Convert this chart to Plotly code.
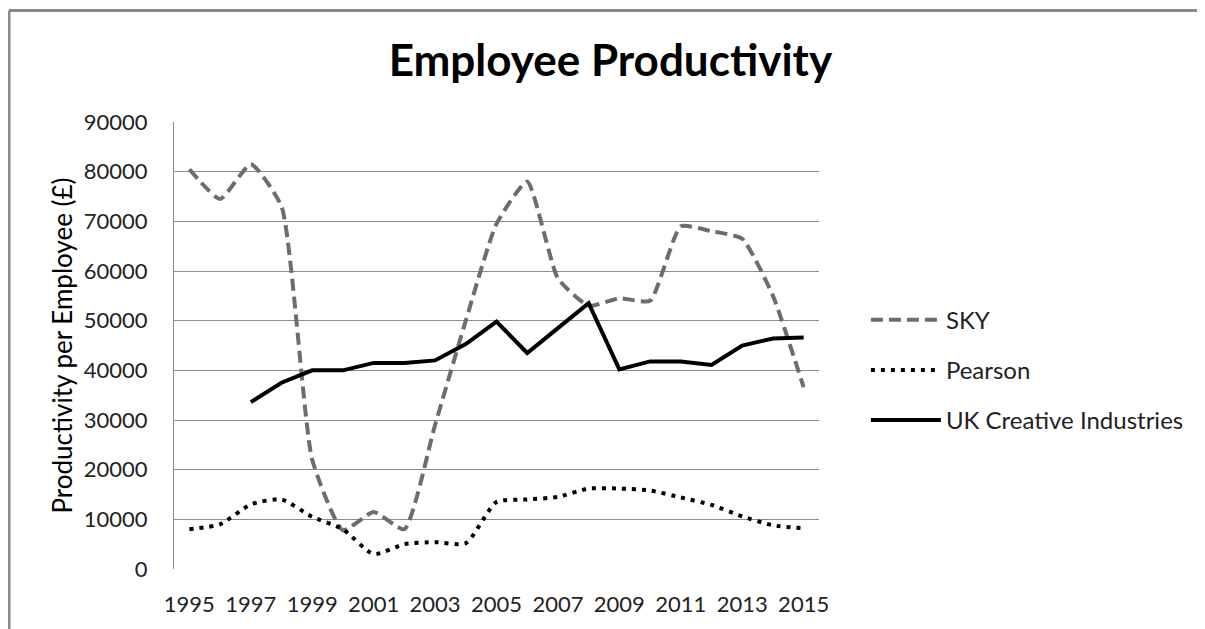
import plotly.graph_objects as go

years = [str(y) for y in range(1995, 2016)]
sky = [80500, 74500, 81500, 73000, 22000, 7800, 11500, 8000, 29000, 50000, 69500,
       78000, 58500, 53000, 54500, 54000, 69000, 68000, 66500, 55000, 36600]
pearson = [8000, 9000, 13000, 14000, 10500, 8000, 3000, 5000, 5400, 5200, 13500,
           14000, 14500, 16200, 16200, 15800, 14400, 12900, 10600, 8800, 8200]
uk = [None, None, 33600, 37500, 40000, 40000, 41500, 41500, 42000, 45300, 49800,
      43500, 48500, 53500, 40200, 41800, 41800, 41100, 45000, 46400, 46600]
tick_years = [str(y) for y in range(1995, 2016, 2)]
y_ticks = list(range(0, 90001, 10000))

FONT = "Lato"

fig = go.Figure()
fig.add_trace(go.Scatter(x=years, y=sky, name="SKY", mode="lines",
                         legendgroup="a",
                         line=dict(color="#6d6d6d", width=4, dash="12px,6px",
                                   shape="spline", smoothing=0.5)))
fig.add_trace(go.Scatter(x=years, y=pearson, name="Pearson", mode="lines",
                         legendgroup="b",
                         line=dict(color="#000000", width=4, dash="4px,6px",
                                   shape="spline", smoothing=0.6)))
fig.add_trace(go.Scatter(x=years, y=uk, name="UK Creative Industries", mode="lines",
                         legendgroup="c", connectgaps=False,
                         line=dict(color="#000000", width=4)))

# outer chart frame (left and top edges)
fig.add_shape(type="line", xref="paper", yref="paper",
              x0=-0.2558, x1=-0.2558, y0=-0.3, y1=1.2494,
              line=dict(color="#8a8a8a", width=3))
fig.add_shape(type="line", xref="paper", yref="paper",
              x0=-0.2558, x1=1.9, y0=1.2494, y1=1.2494,
              line=dict(color="#8a8a8a", width=3))

fig.update_layout(
    width=1197, height=621,
    margin=dict(l=166, r=386, t=114, b=54),
    paper_bgcolor="white", plot_bgcolor="white",
    font=dict(family=FONT, size=22, color="#222222"),
    title=dict(text="<b>Employee Productivity</b>", x=0.5033, xanchor="center",
               y=0.915, yanchor="middle",
               font=dict(family=FONT, size=44, color="#000000")),
    legend=dict(x=1.0727, y=0.445, xanchor="left", yanchor="middle",
                traceorder="grouped", tracegroupgap=16, itemwidth=70,
                font=dict(family=FONT, size=24, color="#222222"),
                bgcolor="rgba(0,0,0,0)"),
    xaxis=dict(type="category", range=[-0.5, 20.5],
               tickmode="array", tickvals=tick_years, ticktext=tick_years,
               showgrid=False, showline=False, zeroline=False,
               ticks="", ticklabelstandoff=20,
               tickfont=dict(family=FONT, size=22, color="#222222")),
    yaxis=dict(range=[0, 90000], tickmode="array", tickvals=y_ticks,
               tickformat="d", showgrid=True, gridcolor="#8c8c8c", gridwidth=1,
               showline=True, linecolor="#8c8c8c", linewidth=1,
               zeroline=False, ticks="", ticklabelstandoff=21,
               tickfont=dict(family=FONT, size=22, color="#222222"),
               title=dict(text="Productivity per Employee (£)", standoff=3,
                          font=dict(family=FONT, size=26, color="#000000"))),
)

fig.write_html("out.html")
